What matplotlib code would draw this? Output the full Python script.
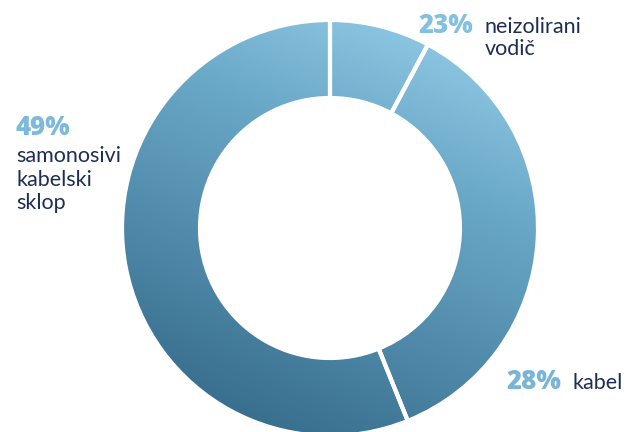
import matplotlib.pyplot as plt
import numpy as np
from matplotlib.colors import LinearSegmentedColormap

# data
labels = ['neizolirani\nvodič', 'kabel', 'samonosivi\nkabelski\nsklop']
percent_text = ['23%', '28%', '49%']
# angular share of each ring segment as drawn (does not follow the printed %)
slice_sizes = [7.8, 36.1, 56.1]

W, H = 630, 432
fig = plt.figure(figsize=[W / 100, H / 100], dpi=100)
ax = fig.add_axes([0, 0, 1, 1])

cx, cy = 330, H - 228
r_out, ring = 208, 78

wedges, _ = ax.pie(slice_sizes, radius=r_out, center=(cx, cy),
                   startangle=90, counterclock=False,
                   wedgeprops=dict(width=ring, facecolor='none',
                                   edgecolor='white', linewidth=3),
                   frame=True)
ax.set_xlim(0, W)
ax.set_ylim(0, H)
ax.set_aspect('equal')
ax.axis('off')

# diagonal gradient: dark bottom-left -> light top-right
xs = np.arange(W) + 0.5
ys = H - (np.arange(H) + 0.5)
X, Y = np.meshgrid(xs, ys)
d = np.array([140.0, 320.0]) / np.hypot(140, 320)
u = (X - cx) * d[0] + (Y - cy) * d[1]
umin, umid, umax = -230.0, 85.0, 215.0
t = np.clip((u - umin) / (umax - umin), 0, 1)
cmap = LinearSegmentedColormap.from_list(
    'ring', [(0, '#356a8a'), ((umid - umin) / (umax - umin), '#6aa8c8'),
             (1, '#8cc6e2')])

for w in wedges:
    w.set_zorder(3)
    im = ax.imshow(t, cmap=cmap, vmin=0, vmax=1, extent=[0, W, 0, H],
                   origin='upper', zorder=2, interpolation='bilinear')
    im.set_clip_path(w)

txt_color = '#1e2d52'
font = 'Lato'

def put(x, y, s, **kw):
    ax.text(x, H - y, s, va='baseline', ha='left', family=font, **kw)

def pct(x, y, s, color):
    ax.text(x, H - y, s, va='baseline', ha='left', family='Open Sans',
            fontsize=18.5, fontweight='heavy', color=color)

# 23% neizolirani vodič
pct(418, 33, percent_text[0], '#84c1e0')
for i, line in enumerate(labels[0].split('\n')):
    put(485, 33 + 22 * i, line, fontsize=15.5, color=txt_color)

# 28% kabel
pct(506, 389, percent_text[1], '#78b5d7')
put(573, 389, labels[1], fontsize=15.5, color=txt_color)

# 49% samonosivi kabelski sklop
pct(16, 135, percent_text[2], '#7cb9da')
for i, line in enumerate(labels[2].split('\n')):
    put(16, 162 + 23.5 * i, line, fontsize=15.5, color=txt_color)

fig.savefig('out.png', dpi=100)
